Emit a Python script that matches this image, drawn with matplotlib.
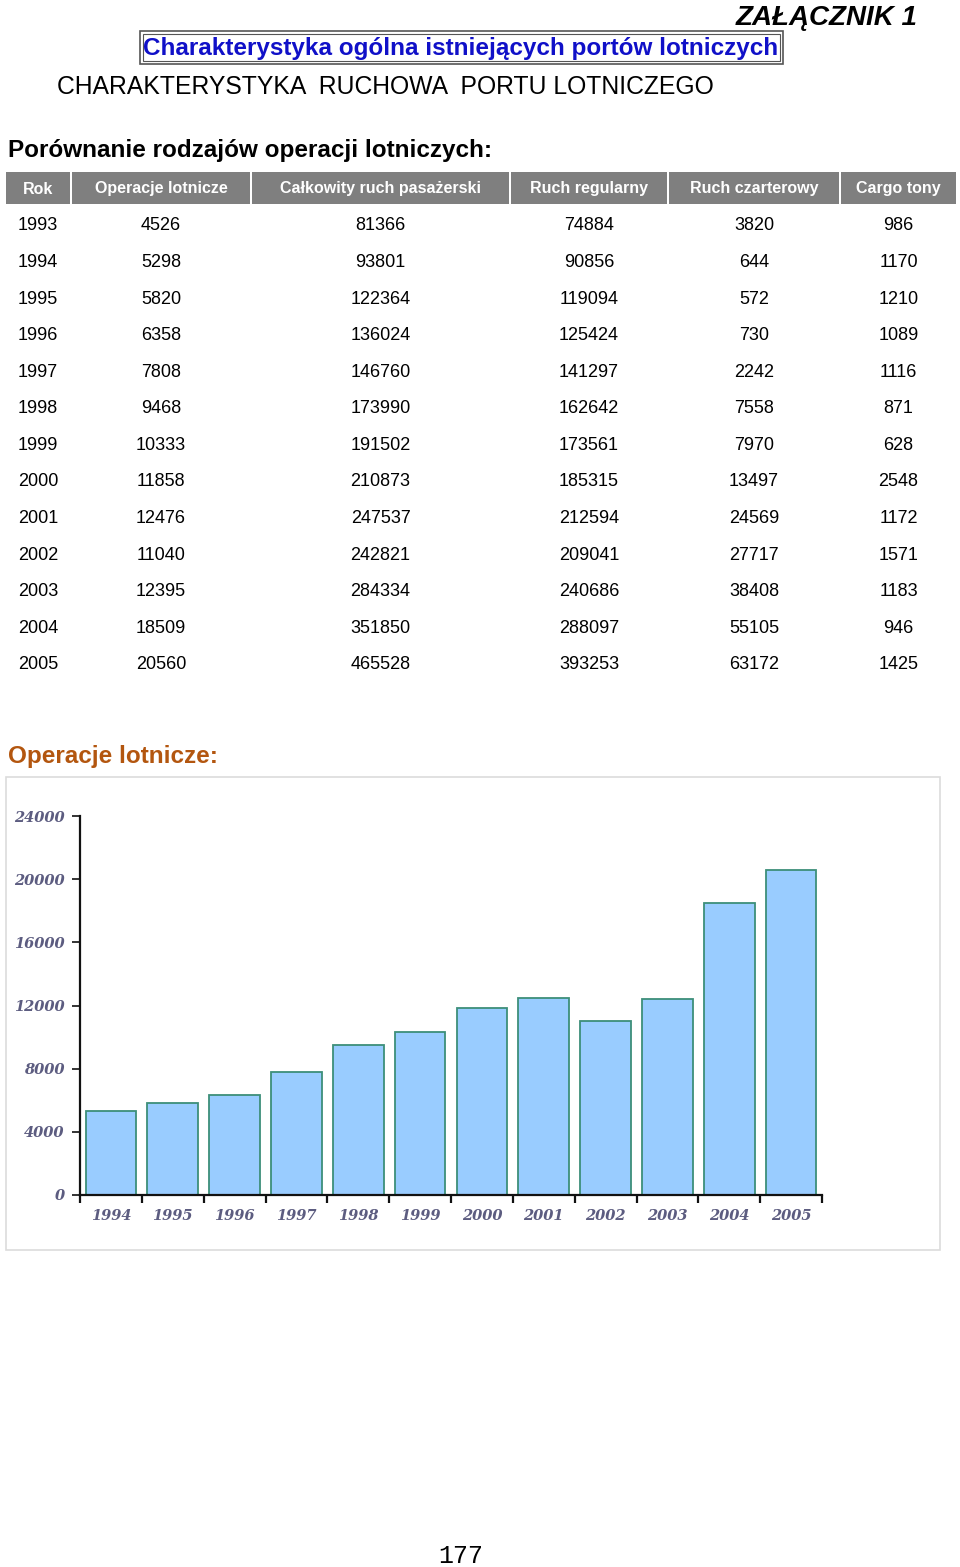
import matplotlib
matplotlib.use('Agg')
import matplotlib.pyplot as plt
from matplotlib.patches import Rectangle
import numpy as np

# --- Data ---
years = [1993, 1994, 1995, 1996, 1997, 1998, 1999, 2000, 2001, 2002, 2003, 2004, 2005]
operacje = [4526, 5298, 5820, 6358, 7808, 9468, 10333, 11858, 12476, 11040, 12395, 18509, 20560]
pasazerski = [81366, 93801, 122364, 136024, 146760, 173990, 191502, 210873, 247537, 242821, 284334, 351850, 465528]
regularny = [74884, 90856, 119094, 125424, 141297, 162642, 173561, 185315, 212594, 209041, 240686, 288097, 393253]
czarterowy = [3820, 644, 572, 730, 2242, 7558, 7970, 13497, 24569, 27717, 38408, 55105, 63172]
cargo = [986, 1170, 1210, 1089, 1116, 871, 628, 2548, 1172, 1571, 1183, 946, 1425]
headers = ['Rok', 'Operacje lotnicze', 'Całkowity ruch pasażerski', 'Ruch regularny',
           'Ruch czarterowy', 'Cargo tony']

chart_years = [str(y) for y in years[1:]]
chart_values = operacje[1:]
y_ticks = [0, 4000, 8000, 12000, 16000, 20000, 24000]

# --- Style ---
W, H = 960, 1567
SANS = ['Liberation Sans', 'DejaVu Sans']
HEADER_BG = '#7f7f7f'
BAR_FACE = '#99ccff'
BAR_EDGE = '#3d8f7a'
TICK_COLOR = '#5c5c80'

fig = plt.figure(figsize=(W / 100, H / 100), dpi=100)


def fx(x):
    return x / W


def fy(y):
    return 1 - y / H


def txt(x, y, s, **kw):
    kw.setdefault('family', SANS)
    kw.setdefault('va', 'center')
    fig.text(fx(x), fy(y), s, **kw)


# Header texts
txt(918, 25, 'ZAŁĄCZNIK 1', fontsize=20, fontweight='bold', style='italic', ha='right', va='baseline')
for off, lw in [(0, 1.2), (3, 0.8)]:
    fig.add_artist(Rectangle((fx(140 + off), fy(64 - off)), fx(643 - 2 * off), (33 - 2 * off) / H,
                             transform=fig.transFigure, fill=False, edgecolor='#555555', linewidth=lw))
txt(461, 48, 'Charakterystyka ogólna istniejących portów lotniczych', fontsize=17.5, fontweight='bold',
    color='#1010c8', ha='center')
txt(57, 87, 'CHARAKTERYSTYKA  RUCHOWA  PORTU LOTNICZEGO', fontsize=17.8, ha='left')
txt(8, 151, 'Porównanie rodzajów operacji lotniczych:', fontsize=17.5, fontweight='bold', ha='left')

# Table
col_edges = [5, 71, 251, 510, 668, 840, 957]
head_top, head_bot = 172, 204
for i, h in enumerate(headers):
    x0, x1 = col_edges[i], col_edges[i + 1]
    fig.add_artist(Rectangle((fx(x0 + 1), fy(head_bot)), fx(x1 - x0 - 2), (head_bot - head_top) / H,
                             transform=fig.transFigure, facecolor=HEADER_BG, edgecolor='none'))
    txt((x0 + x1) / 2, (head_top + head_bot) / 2 + 1, h, fontsize=11.5, fontweight='bold', color='white',
        ha='center')

columns = [years, operacje, pasazerski, regularny, czarterowy, cargo]
row_y0, row_dy = 226, 36.56
for r in range(len(years)):
    for c, col in enumerate(columns):
        cx = (col_edges[c] + col_edges[c + 1]) / 2
        txt(cx, row_y0 + r * row_dy, str(col[r]), fontsize=13, ha='center')

# Chart section
txt(8, 756, 'Operacje lotnicze:', fontsize=17.5, fontweight='bold', color='#b3560f', ha='left')
fig.add_artist(Rectangle((fx(6), fy(1250)), fx(934), (1250 - 777) / H, transform=fig.transFigure,
                         facecolor='white', edgecolor='#dcdcdc', linewidth=1.2, zorder=-1))

ax = fig.add_axes([fx(80), fy(1195), fx(742), (1195 - 816) / H])
ax.set_facecolor('none')
x = np.arange(len(chart_values))
ax.bar(x, chart_values, width=0.82, color=BAR_FACE, edgecolor=BAR_EDGE, linewidth=1.3, zorder=2)
ax.set_xlim(-0.5, len(chart_values) - 0.5)
ax.set_ylim(0, 24000)
for s in ['top', 'right']:
    ax.spines[s].set_visible(False)
for s in ['left', 'bottom']:
    ax.spines[s].set_color('#111111')
    ax.spines[s].set_linewidth(1.6)
    ax.spines[s].set_zorder(3)

ax.set_yticks(y_ticks)
ax.set_yticklabels([str(v) for v in y_ticks])
ax.tick_params(axis='y', length=6, width=1.2, direction='out', color='#111111', pad=5,
               labelcolor=TICK_COLOR, labelsize=10.5)
ax.set_xticks(np.arange(len(chart_values) + 1) - 0.5)
ax.set_xticklabels([])
ax.tick_params(axis='x', which='major', length=6, width=1.6, direction='out', color='#111111')
ax.set_xticks(x, minor=True)
ax.set_xticklabels(chart_years, minor=True)
ax.tick_params(axis='x', which='minor', length=0, pad=10, labelcolor=TICK_COLOR, labelsize=10.5)
for lab in ax.get_yticklabels() + ax.get_xticklabels(minor=True):
    lab.set_family(['DejaVu Serif'])
    lab.set_fontweight('bold')
    lab.set_style('italic')

# Page number
txt(461, 1556, '177', fontsize=18, ha='center', family=['Liberation Mono', 'DejaVu Sans Mono'])

fig.savefig('out.png', dpi=100)
